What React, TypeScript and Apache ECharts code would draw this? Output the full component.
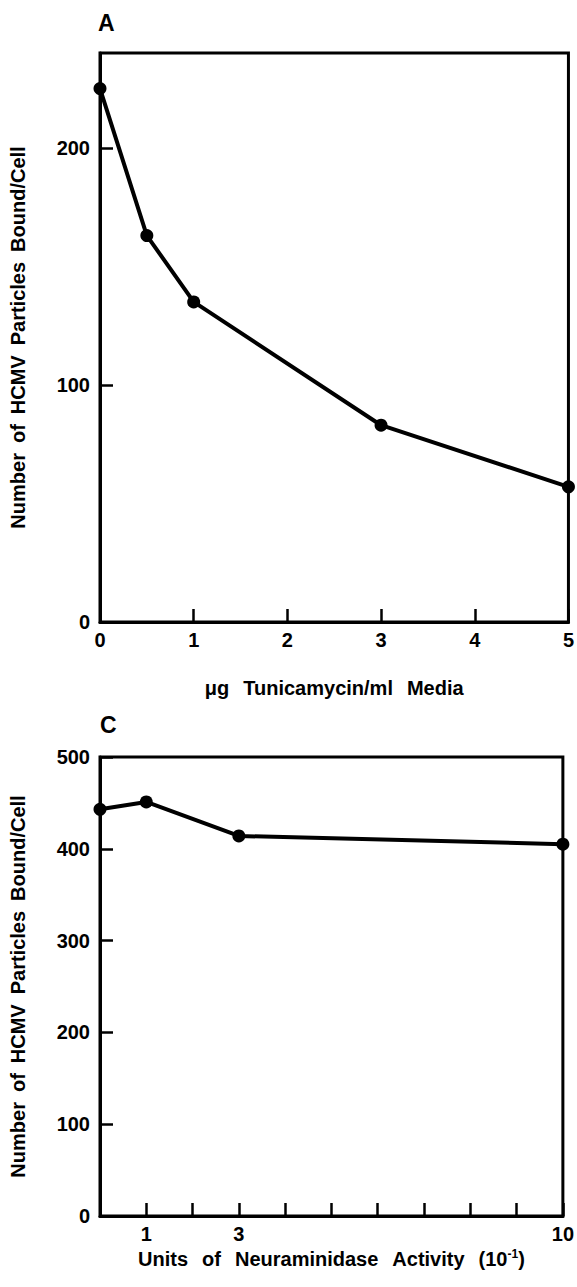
import React, { useEffect, useRef } from "react";
import * as echarts from "echarts";

const tunicamycinDose = [0, 0.5, 1, 3, 5];
const tunicamycinBound = [225, 163, 135, 83, 57];
const neuraminidaseUnits = [0, 1, 3, 10];
const neuraminidaseBound = [443, 451, 414, 405];
const neuraminidaseLabels = ["1", "3", "10"];

const FONT = "'Liberation Sans', 'Helvetica', Arial, sans-serif";
const WS = "\u2002\u2009"; // wide word space as in the original typesetting
const YS = "\u2002";

export default function App() {
  const ref = useRef<HTMLDivElement>(null);
  useEffect(() => {
    if (!ref.current) return;
    const chart = echarts.init(ref.current, null, { renderer: "svg" });
    const axisLine = { show: true, lineStyle: { color: "#000", width: 3 } };
    const tick = { show: true, inside: true, length: 13, lineStyle: { color: "#000", width: 2.5 } };
    const label = { color: "#000", fontFamily: FONT, fontWeight: "bold" as const, fontSize: 20 };
    const nameStyle = { color: "#000", fontFamily: FONT, fontWeight: "bold" as const, fontSize: 20 };
    const yTitle = ["Number", "of", "HCMV", "Particles", "Bound/Cell"].join(YS);
    chart.setOption({
      animation: false,
      backgroundColor: "#fff",
      grid: [
        { left: 100, right: 5, top: 53, height: 569, show: true, borderColor: "#000", borderWidth: 3 },
        { left: 100, right: 12, top: 757, height: 459, show: true, borderColor: "#000", borderWidth: 3 },
      ],
      xAxis: [
        {
          type: "value", gridIndex: 0, min: 0, max: 5, interval: 1,
          axisLine, axisTick: tick, splitLine: { show: false },
          axisLabel: { ...label, margin: 8 },
          name: ["\u03bcg", "Tunicamycin/ml", "Media"].join(WS), nameLocation: "middle", nameGap: 56,
          nameTextStyle: nameStyle,
        },
        {
          type: "value", gridIndex: 1, min: 0, max: 10, interval: 1,
          axisLine, axisTick: tick, splitLine: { show: false },
          axisLabel: {
            ...label, margin: 8,
            formatter: (v: number) => (neuraminidaseLabels.includes(String(v)) ? String(v) : ""),
          },
          name: ["Units", "of", "Neuraminidase", "Activity", "(10{sup|-1})"].join(WS), nameLocation: "middle", nameGap: 32,
          nameTextStyle: {
            ...nameStyle,
            rich: { sup: { color: "#000", fontFamily: FONT, fontWeight: "bold", fontSize: 12, verticalAlign: "top", padding: [0, 0, 10, 0] } },
          },
        },
      ],
      yAxis: [
        {
          type: "value", gridIndex: 0, min: 0, max: 240, interval: 100,
          axisLine, axisTick: tick, splitLine: { show: false },
          axisLabel: { ...label, margin: 10, showMaxLabel: false },
          name: yTitle, nameLocation: "middle", nameGap: 72,
          nameTextStyle: nameStyle,
        },
        {
          type: "value", gridIndex: 1, min: 0, max: 500, interval: 100,
          axisLine, axisTick: tick, splitLine: { show: false },
          axisLabel: { ...label, margin: 10 },
          name: yTitle, nameLocation: "middle", nameGap: 72,
          nameTextStyle: nameStyle,
        },
      ],
      graphic: [
        { type: "text", left: 98, top: 11, style: { text: "A", fill: "#000", font: `bold 23px ${FONT}` } },
        { type: "text", left: 100, top: 713, style: { text: "C", fill: "#000", font: `bold 23px ${FONT}` } },
      ],
      series: [
        {
          type: "line", xAxisIndex: 0, yAxisIndex: 0,
          data: tunicamycinDose.map((d, i) => [d, tunicamycinBound[i]]),
          symbol: "circle", symbolSize: 13, clip: false,
          lineStyle: { color: "#000", width: 4 }, itemStyle: { color: "#000" },
        },
        {
          type: "line", xAxisIndex: 1, yAxisIndex: 1,
          data: neuraminidaseUnits.map((d, i) => [d, neuraminidaseBound[i]]),
          symbol: "circle", symbolSize: 13, clip: false,
          lineStyle: { color: "#000", width: 4 }, itemStyle: { color: "#000" },
        },
      ],
    });
    return () => chart.dispose();
  }, []);
  return (
    <div
      ref={ref}
      style={{ position: "absolute", left: 0, top: 0, width: 577, height: 1287, background: "#fff" }}
    />
  );
}
